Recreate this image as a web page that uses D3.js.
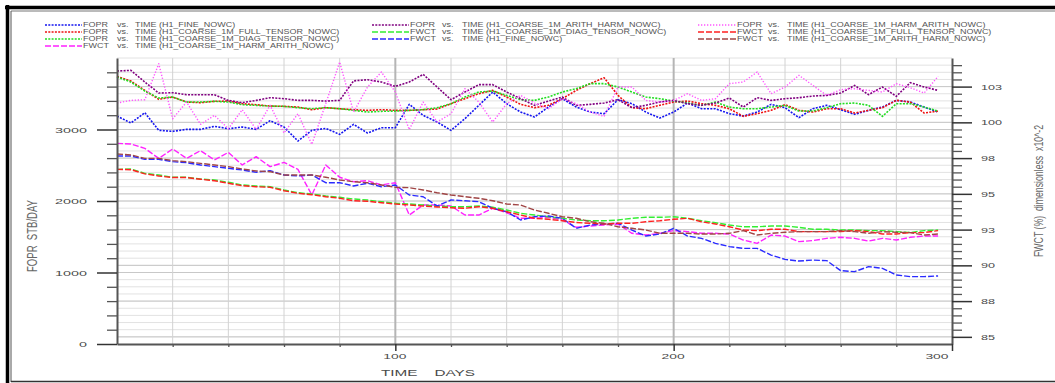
<!DOCTYPE html>
<html>
<head>
<meta charset="utf-8">
<script src="https://cdn.jsdelivr.net/npm/d3@7"></script>
<style>
  html, body { margin: 0; padding: 0; background: #fff; }
  svg { display: block; }
  text { font-family: "Liberation Sans", Arial, sans-serif; white-space: pre; }
</style>
</head>
<body>
<svg id="chart" width="1055" height="383"></svg>
<script>
// ---- time axis (days) ----
const days = [0,5,10,15,20,25,30,35,40,45,50,55,60,65,70,75,80,85,
  90,95,100,105,110,115,120,125,130,135,140,145,150,155,160,165,170,175,180,185,190,195,200,205,210,
  215,220,225,230,235,240,245,250,255,260,265,270,275,280,285,290,295];

// ---- FOPR (STB/DAY), left axis ----
const foprFine = [3188,3091,3235,2988,2974,3002,3002,3044,3011,3035,3002,3123,3035,2839,2988,3016,2932,3072,
  2951,3025,3025,3352,3198,3105,2988,3151,3338,3524,3361,3244,3175,3314,3431,3314,3244,3221,3417,3361,3244,3160,3244,3370,3291,
  3291,3221,3188,3244,3352,3305,3165,3291,3338,3277,3212,3268,3314,3408,3384,3314,3244];
const foprFullTensor = [3743,3678,3547,3422,3454,3384,3375,3394,3398,3361,3347,3328,3324,3314,3277,3305,3291,3277,
  3268,3277,3268,3268,3277,3286,3361,3431,3501,3547,3454,3352,3305,3338,3431,3547,3641,3724,3477,3305,3291,3338,3384,3398,3361,
  3338,3291,3184,3221,3268,3347,3268,3244,3291,3291,3230,3268,3305,3408,3384,3230,3258];
const foprDiagTensor = [3734,3664,3538,3440,3454,3384,3384,3394,3384,3347,3338,3328,3324,3305,3291,3305,3291,3268,
  3244,3254,3258,3268,3277,3305,3361,3454,3524,3538,3477,3417,3407,3454,3524,3571,3641,3641,3594,3524,3454,3431,3398,3370,3338,
  3384,3314,3291,3291,3314,3338,3258,3258,3305,3361,3370,3338,3184,3361,3361,3314,3258];
const foprArithHarm = [3818,3827,3664,3510,3515,3487,3487,3487,3407,3375,3407,3445,3431,3407,3407,3398,3407,3680,
  3696,3664,3603,3664,3771,3594,3417,3524,3627,3627,3524,3431,3338,3398,3454,3338,3352,3370,3417,3305,3338,3384,3407,3361,3338,
  3370,3440,3314,3445,3407,3431,3445,3468,3477,3510,3617,3487,3594,3464,3655,3594,3547];
const foprHarmArith = [3370,3407,3417,3920,3151,3384,3072,3198,3011,3277,3002,3338,2951,3221,2792,3361,3943,3244,
  3594,3804,3524,2998,3384,3105,3221,3571,3384,3105,3361,3477,3370,3291,3431,3361,3244,3184,3594,3594,3407,3384,3407,3501,3407,
  3431,3641,3664,3804,3501,3594,3757,3617,3477,3557,3571,3547,3524,3641,3585,3510,3743];

// ---- FWCT (%), right axis ----
const fwctHarmArith = [98.53,98.49,98.18,97.48,98.14,97.48,98.02,97.37,97.90,97.02,97.60,96.90,97.20,96.71,94.92,97.02,96.16,95.85,
  95.92,95.62,95.78,93.52,94.22,94.22,94.15,93.52,93.52,93.99,93.68,93.29,93.29,93.36,93.17,92.66,92.75,92.82,92.89,92.24,92.12,92.24,92.43,92.36,92.24,
  92.24,92.19,91.77,91.54,92.12,92.05,91.66,91.73,91.89,91.96,91.89,91.70,91.89,91.77,91.96,92.05,92.05];
const fwctFine = [97.65,97.65,97.41,97.41,97.25,97.18,97.02,96.90,96.79,96.67,96.51,96.62,96.32,96.25,96.32,95.78,95.78,95.55,
  95.74,95.50,95.62,94.92,94.80,94.15,94.57,94.52,94.45,93.99,93.75,93.17,93.40,93.45,93.29,92.59,92.82,92.89,92.94,92.47,92.05,92.19,92.59,92.05,91.89,
  91.54,91.31,91.19,91.19,90.72,90.42,90.30,90.37,90.33,89.63,89.56,89.91,89.79,89.33,89.21,89.21,89.26];
const fwctArithHarm = [97.79,97.72,97.48,97.48,97.32,97.25,97.13,97.02,96.90,96.74,96.60,96.55,96.32,96.32,96.32,96.16,95.97,95.85,
  95.78,95.62,95.46,95.43,95.27,95.08,94.92,94.80,94.69,94.52,94.29,94.22,93.87,93.64,93.40,93.29,93.05,92.94,92.70,92.59,92.47,92.24,92.24,92.24,92.19,
  92.19,92.24,92.43,92.12,92.24,92.31,92.36,92.36,92.36,92.43,92.36,92.24,92.36,92.31,92.29,92.12,92.19];
const fwctDiagTensor = [96.71,96.74,96.43,96.32,96.16,96.16,96.04,95.97,95.81,95.62,95.55,95.50,95.27,95.08,94.99,94.85,94.76,94.64,
  94.57,94.45,94.34,94.29,94.22,94.15,94.10,94.10,94.15,94.06,93.87,93.64,93.52,93.40,93.29,93.17,93.12,93.12,93.17,93.29,93.36,93.36,93.40,93.29,93.12,
  92.98,92.82,92.70,92.70,92.75,92.75,92.66,92.52,92.52,92.47,92.47,92.43,92.43,92.36,92.29,92.43,92.47];
const fwctFullTensor = [96.71,96.69,96.40,96.25,96.14,96.14,96.02,95.92,95.74,95.57,95.50,95.46,95.22,95.04,94.94,94.80,94.69,94.52,
  94.48,94.38,94.29,94.22,94.15,94.08,94.03,93.99,94.10,93.99,93.75,93.52,93.29,93.22,93.12,93.00,92.94,92.89,92.94,92.94,93.05,93.12,93.22,93.29,93.05,
  92.89,92.70,92.47,92.43,92.52,92.52,92.36,92.36,92.36,92.36,92.43,92.36,92.19,92.19,92.29,92.29,92.43];

// ---- tick values ----
const leftTicks = [0, 1000, 2000, 3000];
const rightTicks = [85, 87.5, 90, 92.5, 95, 97.5, 100, 102.5];
const xTicks = [100, 200, 300];

// ---- series: quantity, run name, values, axis ----
const series = [
  { id: "foprFine",  qty: "FOPR", run: "H1_FINE_NOWC",                 values: foprFine,       axis: "L" },
  { id: "foprFull",  qty: "FOPR", run: "H1_COARSE_1M_FULL_TENSOR_NOWC", values: foprFullTensor, axis: "L" },
  { id: "foprDiag",  qty: "FOPR", run: "H1_COARSE_1M_DIAG_TENSOR_NOWC", values: foprDiagTensor, axis: "L" },
  { id: "fwctHarm",  qty: "FWCT", run: "H1_COARSE_1M_HARM_ARITH_NOWC",  values: fwctHarmArith,  axis: "R" },
  { id: "foprArith", qty: "FOPR", run: "H1_COARSE_1M_ARITH_HARM_NOWC",  values: foprArithHarm,  axis: "L" },
  { id: "fwctDiag",  qty: "FWCT", run: "H1_COARSE_1M_DIAG_TENSOR_NOWC", values: fwctDiagTensor, axis: "R" },
  { id: "fwctFine",  qty: "FWCT", run: "H1_FINE_NOWC",                 values: fwctFine,       axis: "R" },
  { id: "foprHarm",  qty: "FOPR", run: "H1_COARSE_1M_HARM_ARITH_NOWC",  values: foprHarmArith,  axis: "L" },
  { id: "fwctFull",  qty: "FWCT", run: "H1_COARSE_1M_FULL_TENSOR_NOWC", values: fwctFullTensor, axis: "R" },
  { id: "fwctArith", qty: "FWCT", run: "H1_COARSE_1M_ARITH_HARM_NOWC",  values: fwctArithHarm,  axis: "R" }
];

// line styles per series
const styles = {
  foprFine:  { color: "#1515f0", dash: "2,1.3",   width: 1.6 },
  foprFull:  { color: "#ee1010", dash: "2,1.3",   width: 1.6 },
  foprDiag:  { color: "#22dd22", dash: "2,1.3",   width: 1.6 },
  fwctHarm:  { color: "#ff22ff", dash: "6,2",     width: 1.4 },
  foprArith: { color: "#800080", dash: "2,1.3",   width: 1.6 },
  fwctDiag:  { color: "#33ee33", dash: "6,2",     width: 1.4 },
  fwctFine:  { color: "#2a2aff", dash: "6,2",     width: 1.4 },
  foprHarm:  { color: "#ff55ff", dash: "1.3,1.7", width: 1.4 },
  fwctFull:  { color: "#ff2020", dash: "6,2",     width: 1.4 },
  fwctArith: { color: "#a04545", dash: "6,2",     width: 1.4 }
};

const svg = d3.select("#chart");
const plot = { left: 117, right: 952, top: 58, bottom: 344 };

const x  = d3.scaleLinear().domain([0, 300]).range([plot.left, plot.right]);
const yL = d3.scaleLinear().domain([0, 4000]).range([plot.bottom, plot.top]);
const yR = d3.scaleLinear().domain([84.5, 104.5]).range([plot.bottom, plot.top]);

// widen glyphs of a text selection by factor k
function stretch(sel, k) {
  sel.each(function () {
    const w = this.getComputedTextLength();
    d3.select(this).attr("textLength", w * k).attr("lengthAdjust", "spacingAndGlyphs");
  });
}
// set each label to a width proportional to its character count, start-anchored
// at a position derived from `anchor` ("start" | "middle" | "end") and the given offset
function perChar(sel, cw, anchor, offset) {
  sel.each(function () {
    const n = this.textContent.length;
    const w = n * cw;
    const x0 = anchor === "end" ? offset - w : anchor === "middle" ? offset - w / 2 : offset;
    d3.select(this)
      .attr("text-anchor", "start")
      .attr("x", x0)
      .attr("textLength", w).attr("lengthAdjust", "spacingAndGlyphs");
  });
}

// ---- outer frame ----
const frame = svg.append("g");
frame.append("line").attr("x1", 5).attr("x2", 1055).attr("y1", 7.5).attr("y2", 7.5)
  .attr("stroke", "#000").attr("stroke-width", 3.5);
frame.append("line").attr("x1", 11).attr("x2", 1055).attr("y1", 11).attr("y2", 11)
  .attr("stroke", "#777").attr("stroke-width", 1);
frame.append("line").attr("x1", 7.5).attr("x2", 7.5).attr("y1", 5).attr("y2", 383)
  .attr("stroke", "#000").attr("stroke-width", 3.5);
frame.append("line").attr("x1", 11).attr("x2", 11).attr("y1", 11).attr("y2", 382)
  .attr("stroke", "#555").attr("stroke-width", 1);
frame.append("line").attr("x1", 11).attr("x2", 1055).attr("y1", 381.5).attr("y2", 381.5)
  .attr("stroke", "#333").attr("stroke-width", 1.5);

// ---- grid ----
const grid = svg.append("g");
const minorH = d3.range(100, 4001, 100);
grid.selectAll(".hmin").data(minorH).join("line")
  .attr("x1", plot.left).attr("x2", plot.right)
  .attr("y1", d => yL(d)).attr("y2", d => yL(d))
  .attr("stroke", "#e2e2e2").attr("stroke-width", 1);
grid.selectAll(".hmajR").data(rightTicks).join("line")
  .attr("x1", plot.left).attr("x2", plot.right)
  .attr("y1", d => yR(d)).attr("y2", d => yR(d))
  .attr("stroke", "#c8c8c8").attr("stroke-width", 1);
grid.selectAll(".hmajL").data(leftTicks.slice(1)).join("line")
  .attr("x1", plot.left).attr("x2", plot.right)
  .attr("y1", d => yL(d)).attr("y2", d => yL(d))
  .attr("stroke", "#c8c8c8").attr("stroke-width", 1);
const vLines = d3.range(20, 300, 20);
grid.selectAll(".v").data(vLines).join("line")
  .attr("x1", d => x(d)).attr("x2", d => x(d))
  .attr("y1", plot.top).attr("y2", plot.bottom)
  .attr("stroke", d => d % 100 === 0 ? "#b5b5b5" : "#d2d2d2")
  .attr("stroke-width", d => d % 100 === 0 ? 2 : 1);

// ---- series lines ----
const linesG = svg.append("g");
series.forEach(s => {
  const y = s.axis === "L" ? yL : yR;
  const st = styles[s.id];
  const line = d3.line().x((d, i) => x(days[i])).y(d => y(d));
  linesG.append("path").datum(s.values)
    .attr("d", line)
    .attr("fill", "none")
    .attr("stroke", st.color)
    .attr("stroke-width", st.width)
    .attr("stroke-dasharray", st.dash)
    .attr("stroke-linejoin", "round");
});

// ---- axes ----
const axisColor = "#555";
const labelColor = "#4a4a4a";

// left
const leftMinor = d3.range(200, 4000, 200).filter(d => d % 1000 !== 0);
svg.append("g").attr("transform", `translate(${plot.left},0)`)
  .call(d3.axisLeft(yL).tickValues(leftMinor).tickSize(10).tickSizeOuter(0).tickFormat(""))
  .call(g => g.select(".domain").remove())
  .call(g => g.selectAll("line").attr("stroke", axisColor).attr("stroke-width", 1.3));
const gL = svg.append("g").attr("transform", `translate(${plot.left},0)`)
  .call(d3.axisLeft(yL).tickValues(leftTicks).tickSize(20).tickSizeOuter(0).tickPadding(10).tickFormat(d3.format("d")));
gL.select(".domain").attr("stroke", axisColor).attr("stroke-width", 2);
gL.selectAll("line").attr("stroke", "#333").attr("stroke-width", 1.5);
gL.selectAll("text").attr("fill", labelColor).attr("font-size", 8);
perChar(gL.selectAll("text"), 8, "end", -30);

// right
const rightMinor = d3.range(85.5, 104.01, 0.5).filter(d => !rightTicks.includes(d));
svg.append("g").attr("transform", `translate(${plot.right},0)`)
  .call(d3.axisRight(yR).tickValues(rightMinor).tickSize(10).tickSizeOuter(0).tickFormat(""))
  .call(g => g.select(".domain").remove())
  .call(g => g.selectAll("line").attr("stroke", axisColor).attr("stroke-width", 1.3));
const gR = svg.append("g").attr("transform", `translate(${plot.right},0)`)
  .call(d3.axisRight(yR).tickValues(rightTicks).tickSize(20).tickSizeOuter(0).tickPadding(8).tickFormat(d => Math.round(d)));
gR.select(".domain").attr("stroke", axisColor).attr("stroke-width", 2);
gR.selectAll("line").attr("stroke", "#333").attr("stroke-width", 1.5);
gR.selectAll("text").attr("fill", labelColor).attr("font-size", 8);
perChar(gR.selectAll("text"), 7, "start", 29);

// bottom
const xMinor = d3.range(20, 300, 20).filter(d => d % 100 !== 0);
svg.append("g").attr("transform", `translate(0,${plot.bottom})`)
  .call(d3.axisBottom(x).tickValues(xMinor).tickSize(3).tickSizeOuter(0).tickFormat(""))
  .call(g => g.select(".domain").remove())
  .call(g => g.selectAll("line").attr("stroke", axisColor).attr("stroke-width", 1.3));
const gB = svg.append("g").attr("transform", `translate(0,${plot.bottom})`)
  .call(d3.axisBottom(x).tickValues(xTicks).tickSize(7).tickSizeOuter(0).tickPadding(2).tickFormat(d3.format("d")));
gB.select(".domain").attr("stroke", axisColor).attr("stroke-width", 2);
gB.selectAll("line").attr("stroke", "#333").attr("stroke-width", 1.5);
gB.selectAll("text").attr("fill", labelColor).attr("font-size", 8);
perChar(gB.selectAll(".tick").filter(d => d !== 300).select("text"), 7.7, "middle", -1);
perChar(gB.selectAll(".tick").filter(d => d === 300).select("text"), 7.7, "end", -4);

// axis titles
svg.append("text").attr("x", 381).attr("y", 376)
  .attr("font-size", 9).attr("fill", labelColor)
  .attr("textLength", 94).attr("lengthAdjust", "spacingAndGlyphs")
  .text("TIME    DAYS");

svg.append("text")
  .attr("transform", "translate(37,272) rotate(-90)")
  .attr("font-size", 14).attr("fill", "#666")
  .attr("textLength", 72).attr("lengthAdjust", "spacingAndGlyphs")
  .text("FOPR  STB/DAY");

svg.append("text")
  .attr("transform", "translate(1043,257) rotate(-90)")
  .attr("font-size", 13).attr("fill", "#666")
  .attr("textLength", 132).attr("lengthAdjust", "spacingAndGlyphs")
  .text("FWCT (%)  dimensionless  x10^-2");

// ---- legend ----
const legendCols = [
  { s0: 45,  s1: 82,  tx: 83,  vx: 117, rx: 135, items: ["foprFine", "foprFull", "foprDiag", "fwctHarm"] },
  { s0: 372, s1: 409, tx: 410, vx: 442, rx: 462, items: ["foprArith", "fwctDiag", "fwctFine"] },
  { s0: 698, s1: 736, tx: 737, vx: 768, rx: 787, items: ["foprHarm", "fwctFull", "fwctArith"] }
];
const legend = svg.append("g");
const legendText = "#555";
legendCols.forEach(col => {
  col.items.forEach((id, i) => {
    const s = series.find(d => d.id === id);
    const st = styles[id];
    const cy = 25 + i * 7;
    legend.append("line")
      .attr("x1", col.s0).attr("x2", col.s1).attr("y1", cy).attr("y2", cy)
      .attr("stroke", st.color).attr("stroke-width", 1.4)
      .attr("stroke-dasharray", st.dash);
    const t1 = legend.append("text").attr("x", col.tx).attr("y", cy + 2.4)
      .attr("font-size", 6.5).attr("fill", legendText).text(s.qty);
    const t2 = legend.append("text").attr("x", col.vx).attr("y", cy + 2.4)
      .attr("font-size", 6.5).attr("fill", legendText).text("vs.");
    const t3 = legend.append("text").attr("x", col.rx).attr("y", cy + 2.4)
      .attr("font-size", 6.5).attr("fill", legendText).text(`TIME (${s.run})`);
    stretch(t1, 1.38); stretch(t2, 1.38); stretch(t3, 1.38);
  });
});
</script>
</body>
</html>
